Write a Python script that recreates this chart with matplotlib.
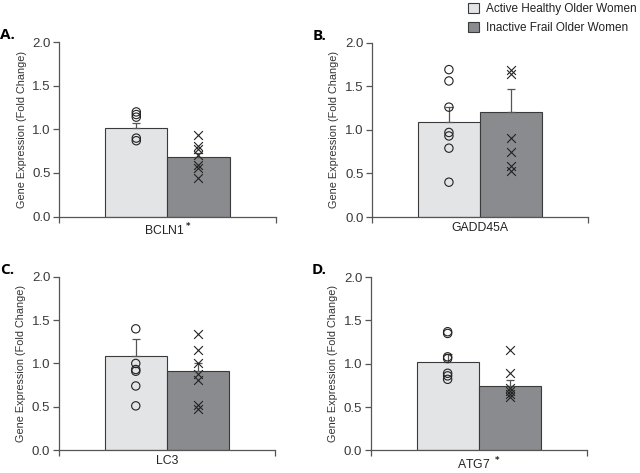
import matplotlib.pyplot as plt
import matplotlib.patches as mpatches

plt.rcParams['font.family'] = ['Liberation Sans', 'DejaVu Sans']

# Data
groups = ['Active Healthy Older Women', 'Inactive Frail Older Women']
genes = ['BCLN1', 'GADD45A', 'LC3', 'ATG7']
gene_labels = ['BCLN1$^{\\bf *}$', 'GADD45A', 'LC3', 'ATG7 $^{\\bf *}$']
panel_letters = ['A.', 'B.', 'C.', 'D.']

means_active = [1.01, 1.09, 1.09, 1.02]
means_frail = [0.68, 1.21, 0.91, 0.74]
sem_active = [0.06, 0.17, 0.19, 0.09]
sem_frail = [0.05, 0.26, 0.10, 0.07]

points_active = [
    [1.20, 1.17, 1.14, 0.90, 0.87],
    [1.69, 1.56, 1.26, 0.97, 0.93, 0.79, 0.40],
    [1.40, 1.00, 0.93, 0.91, 0.74, 0.51],
    [1.37, 1.35, 1.08, 1.06, 0.89, 0.86, 0.82],
]
points_frail = [
    [0.94, 0.81, 0.77, 0.71, 0.59, 0.56, 0.44],
    [1.68, 1.64, 0.91, 0.75, 0.58, 0.53],
    [1.34, 1.16, 1.01, 0.88, 0.81, 0.52, 0.47],
    [1.16, 0.89, 0.72, 0.68, 0.65, 0.62],
]

light = '#e2e4e5'
dark = '#898b8e'
edge = '#3a3a3a'
axcol = '#555555'

fig = plt.figure(figsize=(6.4, 4.73), dpi=100)
rects = [
    [0.0925, 0.542, 0.338, 0.369],
    [0.581, 0.541, 0.338, 0.369],
    [0.0917, 0.0486, 0.338, 0.366],
    [0.579, 0.048, 0.338, 0.366],
]

for i, rect in enumerate(rects):
    ax = fig.add_axes(rect)
    ax.bar(0, means_active[i], width=1.0, color=light, edgecolor=edge, linewidth=0.8,
           yerr=[[0], [sem_active[i]]], error_kw=dict(ecolor=axcol, elinewidth=0.9, capsize=3, capthick=0.9),
           zorder=2)
    ax.bar(1, means_frail[i], width=1.0, color=dark, edgecolor=edge, linewidth=0.8,
           yerr=[[0], [sem_frail[i]]], error_kw=dict(ecolor=axcol, elinewidth=0.9, capsize=3, capthick=0.9),
           zorder=2)
    ax.scatter([0] * len(points_active[i]), points_active[i], s=36, facecolors='none',
               edgecolors='#222222', linewidths=0.8, zorder=3)
    ax.scatter([1] * len(points_frail[i]), points_frail[i], s=40, marker='x',
               color='#222222', linewidths=0.8, zorder=3)

    ax.set_xlim(-1.24, 2.24)
    ax.set_ylim(0, 2.0)
    ax.set_yticks([0, 0.5, 1.0, 1.5, 2.0])
    ax.set_yticklabels(['0.0', '0.5', '1.0', '1.5', '2.0'])
    ax.set_xticks([-1.24, 2.24])
    ax.set_xticklabels(['', ''])
    for s in ['top', 'right']:
        ax.spines[s].set_visible(False)
    for s in ['left', 'bottom']:
        ax.spines[s].set_color(axcol)
        ax.spines[s].set_linewidth(0.9)
    ax.tick_params(axis='both', direction='out', length=4, width=0.9, color=axcol,
                   labelsize=9.5, labelcolor='#3a3a3a', pad=2)
    ax.set_ylabel('Gene Expression (Fold Change)', fontsize=7.8, color='#333333', labelpad=4)
    ax.text(0.5, -0.03, gene_labels[i], transform=ax.transAxes, ha='center', va='top',
            fontsize=8.8, color='#222222')
    ax.text(-0.272, 1.04, panel_letters[i], transform=ax.transAxes, ha='left', va='center',
            fontsize=11, fontweight='bold', color='black', family='Open Sans')

handles = [mpatches.Patch(facecolor=light, edgecolor=edge, linewidth=0.8),
           mpatches.Patch(facecolor=dark, edgecolor=edge, linewidth=0.8)]
fig.legend(handles, groups, loc='upper left', bbox_to_anchor=(0.715, 1.016), frameon=False,
           fontsize=8.5, handlelength=0.9, handleheight=0.9, handletextpad=0.6, labelspacing=0.58,
           labelcolor='#222222')

fig.savefig('out.png', dpi=100)
